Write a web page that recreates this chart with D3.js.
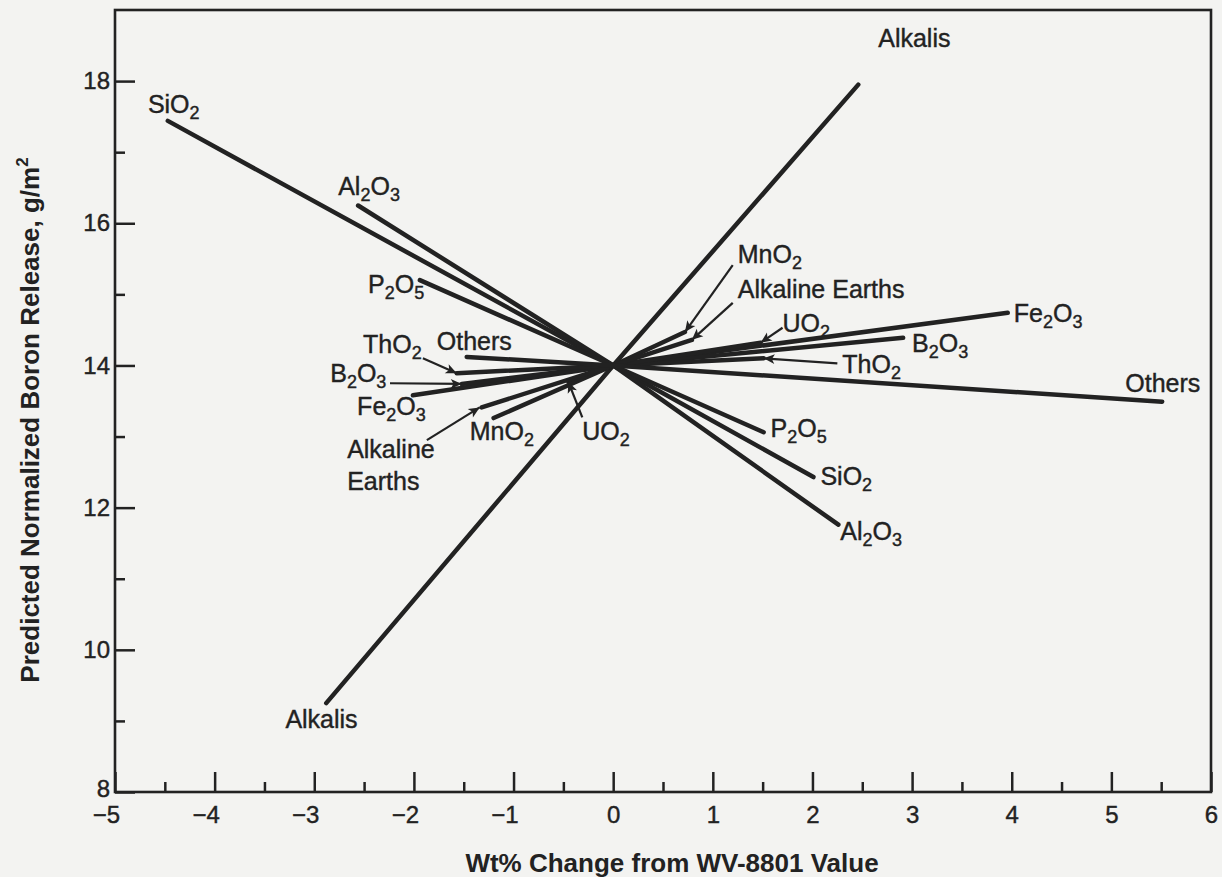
<!DOCTYPE html>
<html>
<head>
<meta charset="utf-8">
<script src="https://cdn.jsdelivr.net/npm/d3@7"></script>
<style>
body { margin:0; background:#f3f3f1; }
svg { display:block; }
text { font-family:"Liberation Sans", Arial, sans-serif; fill:#222; }
</style>
</head>
<body>
<div id="chart"></div>
<script>
// components, with low / high ends of each line (wt% change, boron release)
var components = ["SiO_2","Al_2O_3","P_2O_5","Alkalis","Fe_2O_3","B_2O_3","ThO_2","UO_2","MnO_2","Alkaline Earths","Others"];
var lowChange   = [-4.47, -2.56, -1.94, -2.88, -2.01, -1.52, -1.57, -0.45, -1.20, -1.32, -1.47];
var lowRelease  = [17.44, 16.25, 15.20,  9.25, 13.58, 13.74, 13.89, 13.77, 13.26, 13.41, 14.12];
var highChange  = [ 2.01,  2.26,  1.51,  2.46,  3.96,  2.91,  1.51,  1.48,  0.72,  0.79,  5.51];
var highRelease = [12.43, 11.76, 13.06, 17.95, 14.74, 14.39, 14.10, 14.32, 14.47, 14.36, 13.49];
var baseChange = 0, baseRelease = 14;

var xTicks = [-5,-4,-3,-2,-1,0,1,2,3,4,5,6];
var yTicks = [8,10,12,14,16,18];

// label text and where it sits (data units)
var labelText = ["SiO_2","Al_2O_3","P_2O_5","Others","ThO_2","B_2O_3","Fe_2O_3","Alkaline","Earths","MnO_2","UO_2","Alkalis",
                 "Alkalis","MnO_2","Alkaline Earths","UO_2","Fe_2O_3","B_2O_3","ThO_2","Others","P_2O_5","SiO_2","Al_2O_3"];
var labelX = [-4.67,-2.76,-2.46,-1.77,-2.51,-2.84,-2.57,-2.67,-2.67,-1.44,-0.31,-3.29,
               2.66, 1.25, 1.25, 1.70, 4.02, 3.00, 2.30, 5.14, 1.58, 2.08, 2.28];
var labelY = [17.55,16.40,15.02,14.22,14.17,13.77,13.30,12.70,12.25,12.95,12.95,8.90,
              18.48,15.44,14.95,14.47,14.61,14.19,13.89,13.63,12.99,12.32,11.54];

// leader arrows: from label to line end
var arrowFromX = [-1.91,-2.24,-1.87,-0.31, 1.20, 1.20, 1.70, 2.25];
var arrowFromY = [14.10,13.75,12.95,13.27,15.41,14.88,14.53,14.03];
var arrowToX   = [-1.57,-1.52,-1.34,-0.45, 0.72, 0.79, 1.48, 1.51];
var arrowToY   = [13.89,13.74,13.41,13.77,14.47,14.36,14.32,14.10];

var W = 1222, H = 877;
var margin = {left:115, top:10, right:11, bottom:85};
var w = W - margin.left - margin.right, h = H - margin.top - margin.bottom;

var svg = d3.select("#chart").append("svg").attr("width",W).attr("height",H);
var g = svg.append("g").attr("transform","translate("+margin.left+","+margin.top+")");

var x = d3.scaleLinear().domain([-5,6]).range([0,w]);
var y = d3.scaleLinear().domain([8,19]).range([h,0]);

function subText(sel, s) {
  var parts = s.split(/(_\d)/).filter(Boolean);
  var shift = 0;
  parts.forEach(function(p){
    if (p[0] === "_") {
      sel.append("tspan").attr("font-size","18px").attr("dy",6 - shift).text(p.slice(1));
      shift = 6;
    } else {
      sel.append("tspan").attr("dy",-shift).text(p);
      shift = 0;
    }
  });
}

// minor ticks
g.append("g").attr("transform","translate(0,"+h+")")
  .call(d3.axisBottom(x).tickValues(d3.range(-4.5,6,1)).tickSize(-10).tickFormat(""))
  .call(function(a){ a.select(".domain").remove(); });
g.append("g")
  .call(d3.axisLeft(y).tickValues([9,11,13,15,17]).tickSize(-10).tickFormat(""))
  .call(function(a){ a.select(".domain").remove(); });

var xa = g.append("g").attr("transform","translate(0,"+h+")")
  .call(d3.axisBottom(x).tickValues(xTicks).tickSize(-20).tickPadding(14)
    .tickFormat(function(d){ return d < 0 ? "\u2212" + Math.abs(d) : d; }));
xa.select(".domain").remove();
xa.selectAll("text").attr("font-size","24px").attr("dx",function(d){ return d < 0 ? -9 : 0; });

var ya = g.append("g")
  .call(d3.axisLeft(y).tickValues(yTicks).tickSize(-20).tickPadding(5));
ya.select(".domain").remove();
ya.selectAll("text").attr("font-size","24px").attr("dy",function(d){ return d === 8 ? "0.2em" : "0.32em"; });

svg.selectAll(".tick line").attr("stroke","#222").attr("stroke-width",2.5);
svg.selectAll(".tick text").attr("stroke","#222").attr("stroke-width",0.4);

g.append("rect").attr("width",w).attr("height",h)
  .attr("fill","none").attr("stroke","#222").attr("stroke-width",2.6);

// data lines
var line = d3.line().x(function(d){ return x(d[0]); }).y(function(d){ return y(d[1]); });
g.selectAll("path.comp")
  .data(components)
  .enter()
  .append("path")
  .attr("class","comp")
  .attr("d",function(d,i){
    return line([[lowChange[i],lowRelease[i]],[baseChange,baseRelease],[highChange[i],highRelease[i]]]);
  })
  .attr("fill","none")
  .attr("stroke","#222")
  .attr("stroke-width",4.5)
  .attr("stroke-linecap","round");

// arrows
svg.append("defs").append("marker")
  .attr("id","ah").attr("viewBox","0 0 10 10").attr("refX",10).attr("refY",5)
  .attr("markerWidth",16).attr("markerHeight",11).attr("markerUnits","userSpaceOnUse")
  .attr("orient","auto")
  .append("path").attr("d","M0,0.5 L10,5 L0,9.5 L2.5,5 Z").attr("fill","#222");

g.selectAll("line.arrow")
  .data(arrowFromX)
  .enter()
  .append("line")
  .attr("class","arrow")
  .attr("x1",function(d,i){ return x(arrowFromX[i]); })
  .attr("y1",function(d,i){ return y(arrowFromY[i]); })
  .attr("x2",function(d,i){ return x(arrowToX[i]); })
  .attr("y2",function(d,i){ return y(arrowToY[i]); })
  .attr("stroke","#222").attr("stroke-width",2.2)
  .attr("marker-end","url(#ah)");

// labels
labelText.forEach(function(s,i){
  var t = g.append("text")
    .attr("x",x(labelX[i]))
    .attr("y",y(labelY[i]))
    .attr("font-size","25px")
    .attr("stroke","#222").attr("stroke-width",0.4);
  subText(t, s);
});

// axis titles
svg.append("text")
  .attr("x", 672)
  .attr("y", 872)
  .attr("text-anchor","middle")
  .attr("font-size","26px")
  .attr("font-weight","bold")
  .text("Wt% Change from WV-8801 Value");

var yt = svg.append("text")
  .attr("transform","translate(39,420) rotate(-90)")
  .attr("text-anchor","middle")
  .attr("font-size","26px")
  .attr("font-weight","bold");
yt.append("tspan").text("Predicted Normalized Boron Release, g/m");
yt.append("tspan").attr("font-size","17px").attr("dy",-11).text("2");
</script>
</body>
</html>
